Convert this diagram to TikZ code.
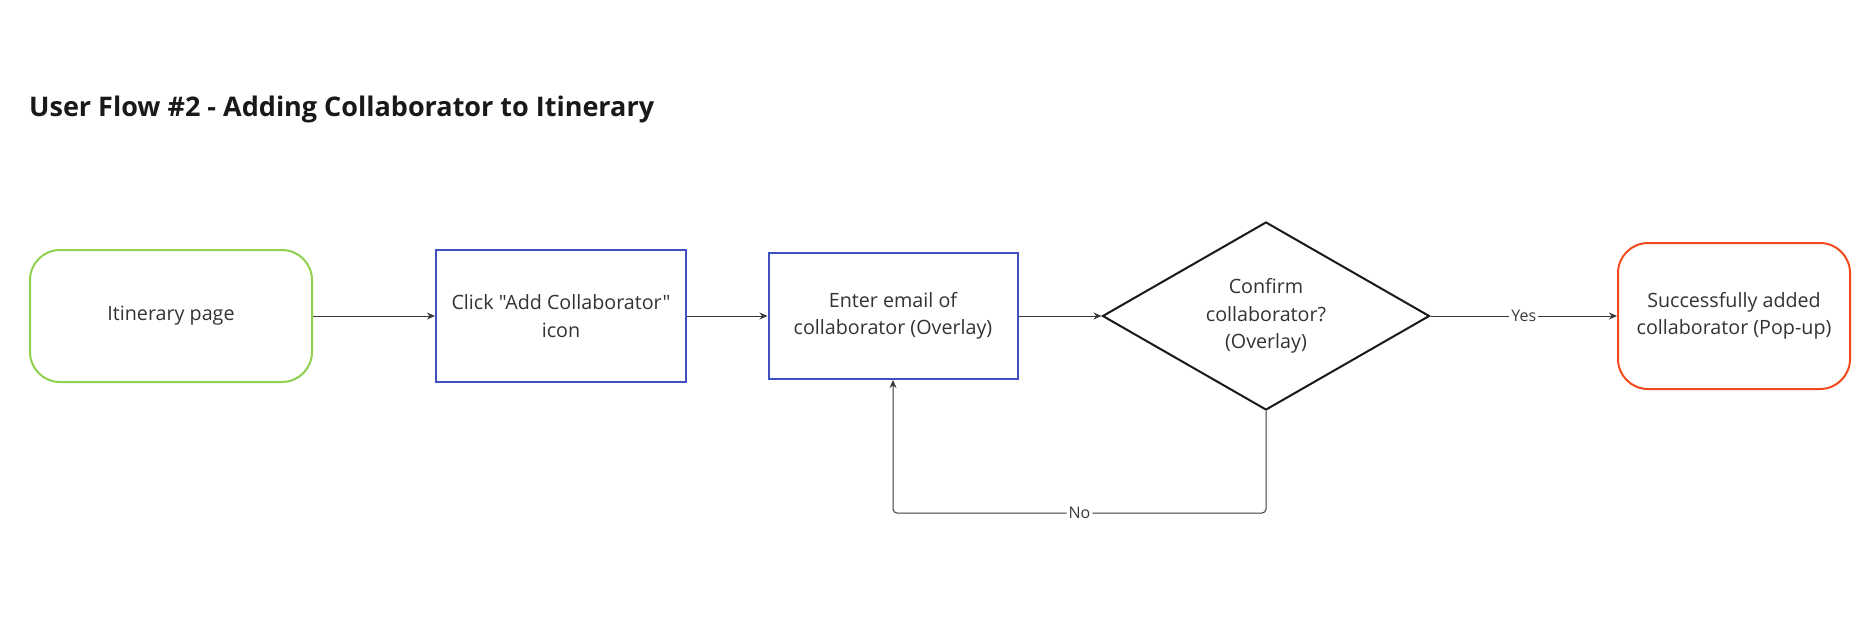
\documentclass[tikz,border=0pt]{standalone}
\usepackage{fontspec}
\setmainfont{Open Sans}[Ligatures=TeXOff]
\usetikzlibrary{shapes.geometric,arrows.meta}
\definecolor{flowgreen}{HTML}{8FD14F}
\definecolor{flowblue}{HTML}{4150C0}
\definecolor{floworange}{HTML}{F04A1E}
\definecolor{flowtext}{HTML}{333333}
\definecolor{flowline}{HTML}{3A3A3A}
\tikzset{
  every node/.style={text=flowtext,font=\fontsize{19.7}{27.5}\selectfont},
  startbox/.style={draw=flowgreen,line width=2pt,rounded corners=30pt,minimum width=282pt,minimum height=132pt,inner sep=0pt,align=center},
  endbox/.style={startbox,draw=floworange},
  stepbox/.style={draw=flowblue,line width=2pt,minimum width=250pt,minimum height=132pt,inner sep=0pt,align=center},
  askbox/.style={draw=black!90,line width=2pt,shape=diamond,aspect=1.74,minimum width=327pt,minimum height=188pt,inner sep=0pt,align=center},
  flow/.style={draw=flowline,line width=1pt,-{Stealth[length=8pt,width=7pt]}},
  lbl/.style={fill=white,inner sep=2pt,text=flowline,font=\fontsize{16}{18}\selectfont}
}
\begin{document}
\begin{tikzpicture}[x=1pt,y=-1pt]
\useasboundingbox[fill=white] (0,0) rectangle (1859,630);
\node[anchor=west,inner sep=0pt,font=\bfseries\fontsize{27}{31}\selectfont,text=black!90] (title) at (29,109) {User Flow \#2 - Adding Collaborator to Itinerary};
% steps of the flow
\node[startbox] (page) at (171,316) {Itinerary page};
\node[stepbox] (click) at (561,316) {Click "Add Collaborator"\\icon};
\node[stepbox,minimum width=249pt,minimum height=126pt] (email) at (893,316) {Enter email of\\collaborator (Overlay)};
\node[askbox] (confirm) at (1266,316) {Confirm\\collaborator?\\(Overlay)};
\node[endbox,minimum width=232pt,minimum height=146pt] (added) at (1734,316) {Successfully added\\collaborator (Pop-up)};
\coordinate (loop) at (0,513);
\draw[flow] (page) -- (click);
\draw[flow] (click) -- (email);
\draw[flow] (email) -- (confirm);
\draw[flow] (confirm) -- node[lbl] {Yes} (added);
\draw[flow,rounded corners=4pt] (confirm.south) -- (confirm.south |- loop) -- node[lbl] {No} (email.south |- loop) -- (email.south);
\end{tikzpicture}
\end{document}
